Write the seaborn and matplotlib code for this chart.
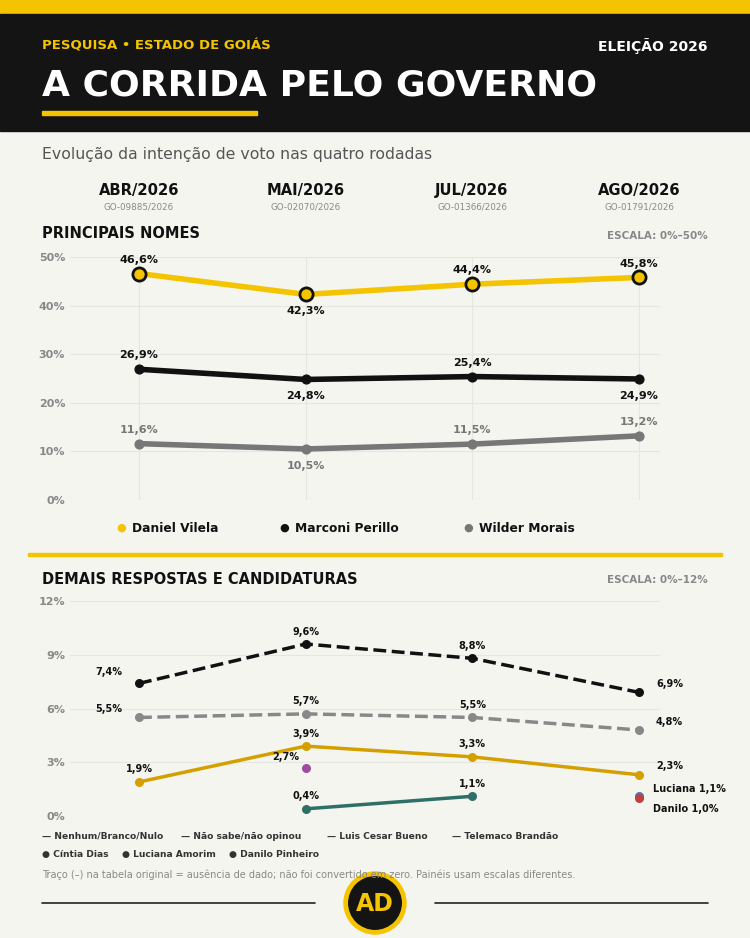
import numpy as np
import pandas as pd
import seaborn as sns
import matplotlib.pyplot as plt
from matplotlib.patches import Rectangle, Circle

sns.set_style('white')
plt.rcParams['font.family'] = ['DejaVu Sans']

W, H = 750, 938
BG = '#f5f5f0'
YEL = '#f5c400'

def fx(x): return x / W
def fy(y): return 1 - y / H

rodadas = ['ABR/2026', 'MAI/2026', 'JUL/2026', 'AGO/2026']
registros = ['GO-09885/2026', 'GO-02070/2026', 'GO-01366/2026', 'GO-01791/2026']

principais = pd.DataFrame({
    'rodada': [0, 1, 2, 3] * 3,
    'nome': ['Daniel Vilela'] * 4 + ['Marconi Perillo'] * 4 + ['Wilder Morais'] * 4,
    'valor': [46.6, 42.3, 44.4, 45.8, 26.9, 24.8, 25.4, 24.9, 11.6, 10.5, 11.5, 13.2],
})
cores = {'Daniel Vilela': YEL, 'Marconi Perillo': '#111111', 'Wilder Morais': '#777777'}

demais = {
    'Nenhum/Branco/Nulo': ([0, 1, 2, 3], [7.4, 9.6, 8.8, 6.9], '#111111', '--'),
    'Não sabe/não opinou': ([0, 1, 2, 3], [5.5, 5.7, 5.5, 4.8], '#888888', '--'),
    'Luis Cesar Bueno': ([0, 1, 2, 3], [1.9, 3.9, 3.3, 2.3], '#d4a000', '-'),
    'Telemaco Brandão': ([1, 2], [0.4, 1.1], '#2e7068', '-'),
}
pontos = {
    'Cíntia Dias': (1, 2.7, '#a04aa0'),
    'Luciana Amorim': (3, 1.1, '#4a7ab0'),
    'Danilo Pinheiro': (3, 1.0, '#c04040'),
}

fig = plt.figure(figsize=(7.5, 9.38), dpi=100, facecolor=BG)

# cabeçalho
fig.patches.append(Rectangle((0, fy(14)), 1, 14 / H, transform=fig.transFigure, color=YEL))
fig.patches.append(Rectangle((0, fy(131)), 1, 117 / H, transform=fig.transFigure, color='#141414'))
fig.text(fx(42), fy(46), 'PESQUISA • ESTADO DE GOIÁS', color=YEL, fontsize=9.5, fontweight='bold', va='center')
fig.text(fx(708), fy(46), 'ELEIÇÃO 2026', color='white', fontsize=10, fontweight='bold', va='center', ha='right')
fig.text(fx(42), fy(86), 'A CORRIDA PELO GOVERNO', color='white', fontsize=26, fontweight='bold', va='center')
fig.patches.append(Rectangle((fx(42), fy(115)), fx(215), 4 / H, transform=fig.transFigure, color=YEL))
fig.text(fx(42), fy(155), 'Evolução da intenção de voto nas quatro rodadas', color='#555555', fontsize=11.3, va='center')

xs = [139, 306, 472, 639]
for x, r, g in zip(xs, rodadas, registros):
    fig.text(fx(x), fy(191), r, ha='center', va='center', fontsize=10.6, fontweight='bold', color='#111111')
    fig.text(fx(x), fy(207), g, ha='center', va='center', fontsize=6.3, color='#888888')

fig.text(fx(42), fy(234), 'PRINCIPAIS NOMES', fontsize=10.5, fontweight='bold', va='center', color='#111111')
fig.text(fx(708), fy(236), 'ESCALA: 0%–50%', fontsize=7.5, fontweight='bold', va='center', ha='right', color='#888888')

# painel superior
k = (639 - 139) / 3
x0, x1 = (70 - 139) / k, (660 - 139) / k
ax1 = fig.add_axes([fx(70), fy(500), fx(590), (500 - 257) / H])
ax1.set_facecolor(BG)
sns.lineplot(data=principais, x='rodada', y='valor', hue='nome', palette=cores, linewidth=4, ax=ax1, legend=False)
lbl = {'Daniel Vilela': ['up', 'down', 'up', 'up'],
       'Marconi Perillo': ['up', 'down', 'up', 'down'],
       'Wilder Morais': ['up', 'down', 'up', 'up']}
for nome, grp in principais.groupby('nome'):
    c = cores[nome]
    if nome == 'Daniel Vilela':
        ax1.scatter(grp['rodada'], grp['valor'], s=90, color=c, edgecolor='#111111', linewidth=2, zorder=5)
    else:
        ax1.scatter(grp['rodada'], grp['valor'], s=40, color=c, zorder=5)
    tc = '#777777' if nome == 'Wilder Morais' else '#111111'
    for (r, v), d in zip(zip(grp['rodada'], grp['valor']), lbl[nome]):
        off = 10 if d == 'up' else -12
        ax1.annotate(f'{v:.1f}%'.replace('.', ','), (r, v), xytext=(0, off), textcoords='offset points',
                     ha='center', va='center', fontsize=8, fontweight='bold', color=tc)
ax1.set_xlim(x0, x1)
ax1.set_ylim(0, 50)
ax1.set_yticks([0, 10, 20, 30, 40, 50])
ax1.set_yticklabels([f'{t}%' for t in range(0, 60, 10)], color='#888888', fontsize=8, fontweight='bold')
ax1.set_xticks([0, 1, 2, 3])
ax1.set_xticklabels([])
ax1.grid(True, color='#e6e6e0', linewidth=0.8)
ax1.tick_params(length=0)
ax1.set_xlabel('')
ax1.set_ylabel('')
sns.despine(ax=ax1, left=True, bottom=True)

for x, nome in zip([116, 279, 463], cores):
    fig.text(fx(x), fy(528), '●', color=cores[nome], fontsize=8, va='center')
    fig.text(fx(x + 16), fy(528), nome, fontsize=8.8, fontweight='bold', va='center', color='#111111')

fig.patches.append(Rectangle((fx(28), fy(556)), fx(694), 3 / H, transform=fig.transFigure, color=YEL))
fig.text(fx(42), fy(579), 'DEMAIS RESPOSTAS E CANDIDATURAS', fontsize=10.5, fontweight='bold', va='center', color='#111111')
fig.text(fx(708), fy(580), 'ESCALA: 0%–12%', fontsize=7.5, fontweight='bold', va='center', ha='right', color='#888888')

# painel inferior
ax2 = fig.add_axes([fx(70), fy(816), fx(590), (816 - 601) / H])
ax2.set_facecolor(BG)
offs = {
    'Nenhum/Branco/Nulo': [(-22, 8), (0, 9), (0, 9), (22, 6)],
    'Não sabe/não opinou': [(-22, 6), (0, 9), (0, 9), (22, 6)],
    'Luis Cesar Bueno': [(0, 9), (0, 9), (0, 9), (22, 6)],
    'Telemaco Brandão': [(0, 9), (0, 9)],
}
for nome, (rx, vals, c, ls) in demais.items():
    sns.lineplot(x=rx, y=vals, color=c, linestyle=ls, linewidth=2.5, ax=ax2)
    ax2.scatter(rx, vals, s=30, color=c, zorder=5)
    for r, v, o in zip(rx, vals, offs[nome]):
        ax2.annotate(f'{v:.1f}%'.replace('.', ','), (r, v), xytext=o, textcoords='offset points',
                     ha='center', va='center', fontsize=7, fontweight='bold', color='#111111')
for nome, (r, v, c) in pontos.items():
    ax2.scatter([r], [v], s=30, color=c, zorder=6 if nome == 'Danilo Pinheiro' else 5)
ax2.annotate('2,7%', (1, 2.7), xytext=(-14, 8), textcoords='offset points', ha='center', va='center',
             fontsize=7, fontweight='bold', color='#111111')
ax2.annotate('Luciana 1,1%', (3, 1.1), xytext=(10, 5), textcoords='offset points', ha='left', va='center',
             fontsize=7, fontweight='bold', color='#111111')
ax2.annotate('Danilo 1,0%', (3, 1.0), xytext=(10, -8), textcoords='offset points', ha='left', va='center',
             fontsize=7, fontweight='bold', color='#111111')
ax2.set_xlim(x0, x1)
ax2.set_ylim(0, 12)
ax2.set_yticks([0, 3, 6, 9, 12])
ax2.set_yticklabels([f'{t}%' for t in [0, 3, 6, 9, 12]], color='#888888', fontsize=8, fontweight='bold')
ax2.set_xticks([])
ax2.grid(True, axis='y', color='#e6e6e0', linewidth=0.8)
ax2.tick_params(length=0)
sns.despine(ax=ax2, left=True, bottom=True)

for x, t in zip([42, 181, 327, 452], ['— Nenhum/Branco/Nulo', '— Não sabe/não opinou', '— Luis Cesar Bueno', '— Telemaco Brandão']):
    fig.text(fx(x), fy(836), t, fontsize=6.6, fontweight='bold', color='#333333', va='center')
for x, t in zip([42, 122, 229], ['● Cíntia Dias', '● Luciana Amorim', '● Danilo Pinheiro']):
    fig.text(fx(x), fy(854), t, fontsize=6.6, fontweight='bold', color='#333333', va='center')
fig.text(fx(42), fy(875), 'Traço (–) na tabela original = ausência de dado; não foi convertido em zero. Painéis usam escalas diferentes.',
         fontsize=7, color='#888888', va='center')

# rodapé
fig.lines.append(plt.Line2D([fx(42), fx(315)], [fy(903), fy(903)], transform=fig.transFigure, color='#222222', lw=1.2))
fig.lines.append(plt.Line2D([fx(435), fx(708)], [fy(903), fy(903)], transform=fig.transFigure, color='#222222', lw=1.2))
axl = fig.add_axes([fx(343), fy(935), fx(64), 64 / H])
axl.set_xlim(-1, 1); axl.set_ylim(-1, 1); axl.set_aspect('equal'); axl.axis('off')
axl.add_patch(Circle((0, 0), 0.97, color=YEL))
axl.add_patch(Circle((0, 0), 0.82, color='#141414'))
axl.text(0, -0.04, 'AD', color=YEL, fontsize=17, fontweight='bold', ha='center', va='center')

fig.savefig('out.png', dpi=100, facecolor=BG)
